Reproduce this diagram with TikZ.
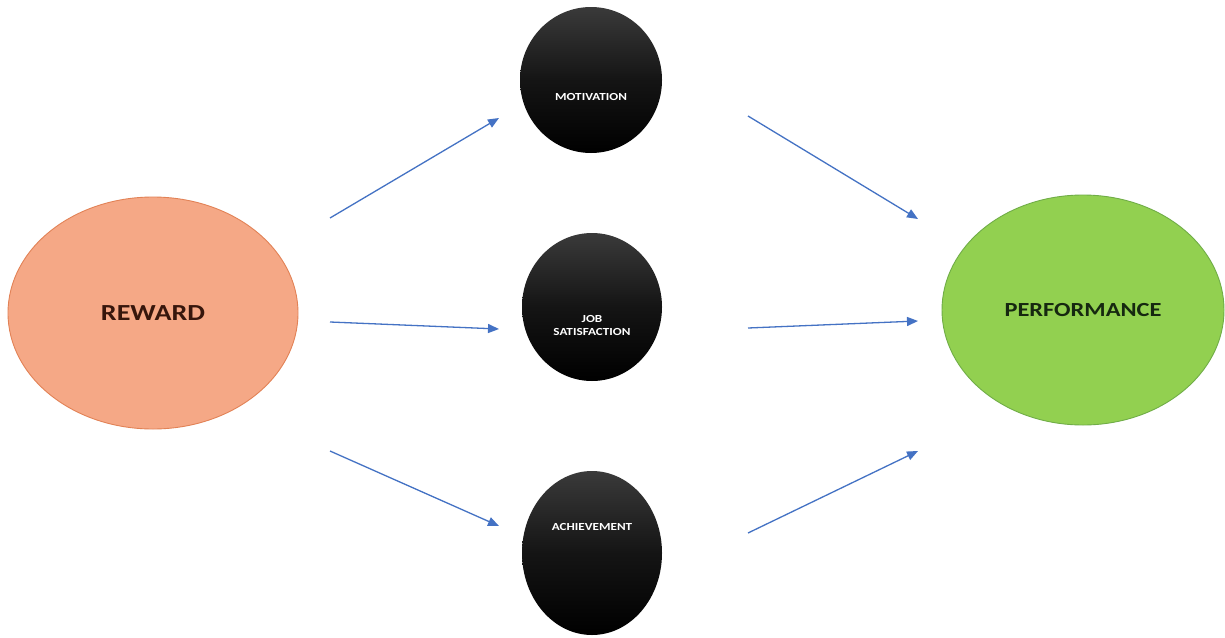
\documentclass[tikz,border=0pt]{standalone}
\usepackage{fontspec}
\setmainfont{Carlito}[FakeStretch=1.22]
\usetikzlibrary{shapes.geometric,arrows.meta}
\definecolor{arrowblue}{RGB}{68,114,196}
\definecolor{salmon}{RGB}{245,168,134}
\definecolor{salmonedge}{RGB}{226,130,86}
\definecolor{leaf}{RGB}{146,208,80}
\definecolor{leafedge}{RGB}{112,173,71}
\definecolor{darkgrey}{RGB}{58,58,58}
\definecolor{rewtext}{RGB}{55,22,12}
\definecolor{perftext}{RGB}{22,40,16}
\tikzset{
  bigoval/.style={ellipse, inner sep=0pt, line width=0.9pt},
  ball/.style={ellipse, inner sep=0pt, top color=darkgrey, bottom color=black, middle color=black!92},
  balltext/.style={text=white, align=center, inner sep=0pt, font=\bfseries\fontsize{10.8}{13}\selectfont},
  link/.style={draw=arrowblue, line width=1.3pt, -{Triangle[length=11pt,width=9pt]}}
}
\begin{document}
\begin{tikzpicture}[x=1pt,y=-1pt]
\useasboundingbox (0,0) rectangle (1225,637);
\fill[white] (0,0) rectangle (1225,637);
\node[bigoval, fill=salmon, draw=salmonedge, minimum width=290pt, minimum height=232pt, text=rewtext, font=\bfseries\fontsize{23}{26}\selectfont] (rew) at (153,313) {REWARD};
\node[bigoval, fill=leaf, draw=leafedge, minimum width=282pt, minimum height=230pt, text=perftext, font=\bfseries\fontsize{20}{23}\selectfont] (perf) at (1083,310) {PERFORMANCE};
\node[ball, minimum width=142pt, minimum height=146pt, label={[balltext, yshift=-17pt]center:MOTIVATION}] (mot) at (591,80) {};
\node[ball, minimum width=140pt, minimum height=148pt, label={[balltext, yshift=-18pt]center:JOB\\SATISFACTION}] (job) at (592,307) {};
\node[ball, minimum width=140pt, minimum height=164pt, label={[balltext, yshift=26pt]center:ACHIEVEMENT}] (ach) at (592,553) {};
\coordinate (a1s) at (330,218); \coordinate (a1e) at (499,118);
\coordinate (a2s) at (330,322); \coordinate (a2e) at (499,329);
\coordinate (a3s) at (330,451); \coordinate (a3e) at (499,526);
\coordinate (b1s) at (748,116); \coordinate (b1e) at (918,219);
\coordinate (b2s) at (748,328); \coordinate (b2e) at (918,321);
\coordinate (b3s) at (748,533); \coordinate (b3e) at (918,451);
\draw[link] (a1s) -- (a1e);
\draw[link] (a2s) -- (a2e);
\draw[link] (a3s) -- (a3e);
\draw[link] (b1s) -- (b1e);
\draw[link] (b2s) -- (b2e);
\draw[link] (b3s) -- (b3e);
\end{tikzpicture}
\end{document}
